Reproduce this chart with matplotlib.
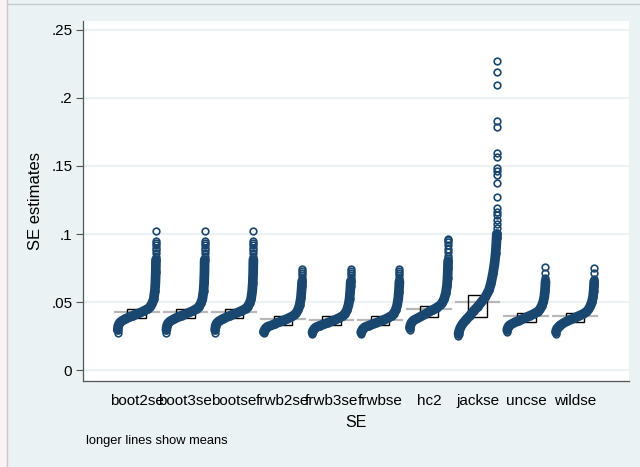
import matplotlib.pyplot as plt
import numpy as np
from matplotlib.patches import Rectangle
from matplotlib.lines import Line2D

plt.rcParams['font.family'] = ['Liberation Sans', 'DejaVu Sans']

categories = ["boot2se", "boot3se", "bootse", "frwb2se", "frwb3se",
              "frwbse", "hc2", "jackse", "uncse", "wildse"]

# cumulative fraction (rank / n) for each quantile listed below
levels = [0.0, 0.005, 0.02, 0.05, 0.1, 0.2, 0.3, 0.4, 0.5, 0.6,
          0.7, 0.8, 0.85, 0.9, 0.94, 0.97, 0.985, 0.995, 1.0]

boot2se_q = [0.0275, 0.0295, 0.0325, 0.0345, 0.0358, 0.0375, 0.0388, 0.0400, 0.0412, 0.0423,
             0.0436, 0.0452, 0.0465, 0.0490, 0.0520, 0.0580, 0.0640, 0.0720, 0.0810]
boot3se_q = [0.0275, 0.0295, 0.0325, 0.0345, 0.0358, 0.0375, 0.0388, 0.0400, 0.0412, 0.0423,
             0.0436, 0.0452, 0.0465, 0.0490, 0.0520, 0.0580, 0.0640, 0.0720, 0.0810]
bootse_q = [0.0275, 0.0295, 0.0325, 0.0345, 0.0358, 0.0375, 0.0388, 0.0400, 0.0412, 0.0423,
            0.0436, 0.0452, 0.0465, 0.0490, 0.0520, 0.0580, 0.0640, 0.0720, 0.0810]
frwb2se_q = [0.0270, 0.0280, 0.0290, 0.0305, 0.0318, 0.0328, 0.0340, 0.0352, 0.0363, 0.0375,
             0.0388, 0.0405, 0.0420, 0.0445, 0.0480, 0.0530, 0.0580, 0.0620, 0.0650]
frwb3se_q = [0.0265, 0.0277, 0.0288, 0.0302, 0.0315, 0.0326, 0.0337, 0.0348, 0.0358, 0.0370,
             0.0383, 0.0400, 0.0415, 0.0440, 0.0475, 0.0525, 0.0575, 0.0620, 0.0650]
frwbse_q = [0.0265, 0.0277, 0.0288, 0.0302, 0.0315, 0.0326, 0.0337, 0.0348, 0.0358, 0.0370,
            0.0383, 0.0400, 0.0415, 0.0440, 0.0475, 0.0525, 0.0575, 0.0620, 0.0650]
hc2_q = [0.0295, 0.0310, 0.0330, 0.0350, 0.0365, 0.0380, 0.0395, 0.0410, 0.0428, 0.0442,
         0.0458, 0.0478, 0.0495, 0.0525, 0.0565, 0.0620, 0.0680, 0.0750, 0.0800]
jackse_q = [0.0250, 0.0265, 0.0285, 0.0310, 0.0335, 0.0370, 0.0400, 0.0435, 0.0465, 0.0500,
            0.0535, 0.0590, 0.0640, 0.0710, 0.0780, 0.0860, 0.0920, 0.0970, 0.1000]
uncse_q = [0.0280, 0.0295, 0.0310, 0.0325, 0.0335, 0.0350, 0.0363, 0.0375, 0.0387, 0.0400,
           0.0413, 0.0430, 0.0445, 0.0470, 0.0500, 0.0540, 0.0580, 0.0620, 0.0650]
wildse_q = [0.0265, 0.0280, 0.0295, 0.0310, 0.0325, 0.0345, 0.0360, 0.0372, 0.0385, 0.0398,
            0.0410, 0.0428, 0.0445, 0.0470, 0.0500, 0.0540, 0.0580, 0.0620, 0.0650]

# largest estimates, which show up as separate circles at the top of each strip
boot2se_top = [0.0833, 0.0860, 0.0880, 0.0900, 0.0920, 0.0935, 0.0950, 0.1020]
boot3se_top = [0.0833, 0.0860, 0.0880, 0.0900, 0.0920, 0.0935, 0.0950, 0.1020]
bootse_top = [0.0833, 0.0860, 0.0880, 0.0900, 0.0920, 0.0935, 0.0950, 0.1020]
frwb2se_top = [0.0665, 0.0680, 0.0695, 0.0710, 0.0725, 0.0740]
frwb3se_top = [0.0665, 0.0680, 0.0695, 0.0710, 0.0725, 0.0740]
frwbse_top = [0.0665, 0.0680, 0.0695, 0.0710, 0.0725, 0.0740]
hc2_top = [0.0820, 0.0840, 0.0870, 0.0890, 0.0920, 0.0940, 0.0956, 0.0965]
jackse_top = [0.0980, 0.1005, 0.1042, 0.1074, 0.1103, 0.1140, 0.1164, 0.1189, 0.1274,
              0.1377, 0.1434, 0.1466, 0.1488, 0.1564, 0.1598, 0.1784, 0.1831, 0.2096,
              0.2189, 0.2275]
uncse_top = [0.0674, 0.0716, 0.0760]
wildse_top = [0.0667, 0.0711, 0.0748]

q25 = [0.0380, 0.0380, 0.0380, 0.0331, 0.0328, 0.0328, 0.0387, 0.0387, 0.0355, 0.0355]
q75 = [0.0449, 0.0449, 0.0449, 0.0399, 0.0394, 0.0394, 0.0470, 0.0551, 0.0421, 0.0421]
means = [0.0429, 0.0429, 0.0429, 0.0375, 0.0368, 0.0368, 0.0451, 0.0502, 0.0400, 0.0397]

body = [boot2se_q, boot3se_q, bootse_q, frwb2se_q, frwb3se_q,
        frwbse_q, hc2_q, jackse_q, uncse_q, wildse_q]
tops = [boot2se_top, boot3se_top, bootse_top, frwb2se_top, frwb3se_top,
        frwbse_top, hc2_top, jackse_top, uncse_top, wildse_top]

navy = "#1a476f"
bg = "#eaf2f3"
W, H = 640, 467

fig = plt.figure(figsize=(6.4, 4.67), dpi=100, facecolor=bg)
ax = fig.add_axes([82.7 / W, 1 - 380.5 / H, (629 - 82.7) / W, (380.5 - 21) / H])
ax.set_facecolor("white")

spread = 0.79
lv = np.array(levels)
mk = dict(ms=4.8, mfc="none", mec=navy, mew=1.2, zorder=5)
for i, (qs, top) in enumerate(zip(body, tops), start=1):
    xs = i + (lv - 0.5) * spread
    # mean line, box from lower to upper quartile
    ax.plot([i - 0.45, i + 0.45], [means[i - 1]] * 2, color="#b8b8b8", lw=1.6, zorder=2)
    ax.add_patch(Rectangle((i - 0.19, q25[i - 1]), 0.38, q75[i - 1] - q25[i - 1],
                           fill=False, ec="black", lw=1.0, zorder=3))
    # sorted estimates: dense part as a thick band, sparse ends as hollow circles
    ax.plot(xs[1:], qs[1:], color=navy, lw=7.0, solid_capstyle="round",
            solid_joinstyle="round", zorder=4)
    ax.plot(xs, qs, "o", **mk)
    ax.plot([i + 0.5 * spread] * len(top), top, "o", **mk)

ax.set_xlim(-0.11, 11.11)
ax.set_ylim(-0.0077, 0.2566)
yt = [0, 0.05, 0.1, 0.15, 0.2, 0.25]
ax.set_yticks(yt)
ax.set_yticklabels(["0", ".05", ".1", ".15", ".2", ".25"], fontsize=11)
ax.set_xticks(range(1, 11))
ax.set_xticklabels(categories, fontsize=11)
ax.tick_params(axis="x", length=0, pad=9.5)
ax.tick_params(axis="y", length=4.8, width=0.8, color="#555555", pad=2.7)
ax.grid(axis="y", color=bg, lw=1.5)
ax.set_axisbelow(True)
for s in ["top", "right"]:
    ax.spines[s].set_visible(False)
for s in ["left", "bottom"]:
    ax.spines[s].set_color("#555555")
    ax.spines[s].set_linewidth(0.9)

fig.text(35 / W, 1 - 200.7 / H, "SE estimates", rotation=90, ha="center", va="center", fontsize=12)
fig.text(355.9 / W, 1 - 422.5 / H, "SE", ha="center", va="center", fontsize=11.5)
fig.text(86 / W, 1 - 441 / H, "longer lines show means", ha="left", va="center", fontsize=9.3)

# window edge
fig.patches.append(Rectangle((0, 0), 6 / W, 1, transform=fig.transFigure,
                             color="#fcf1f5", zorder=0))
fig.lines.append(Line2D([6.5 / W, 6.5 / W], [0, 1], transform=fig.transFigure,
                        color="#c8c8c8", lw=1))
fig.lines.append(Line2D([6.5 / W, 1], [1 - 3.5 / H, 1 - 3.5 / H], transform=fig.transFigure,
                        color="#c8cdd0", lw=1))

fig.savefig("out.png", dpi=100, facecolor=bg)
